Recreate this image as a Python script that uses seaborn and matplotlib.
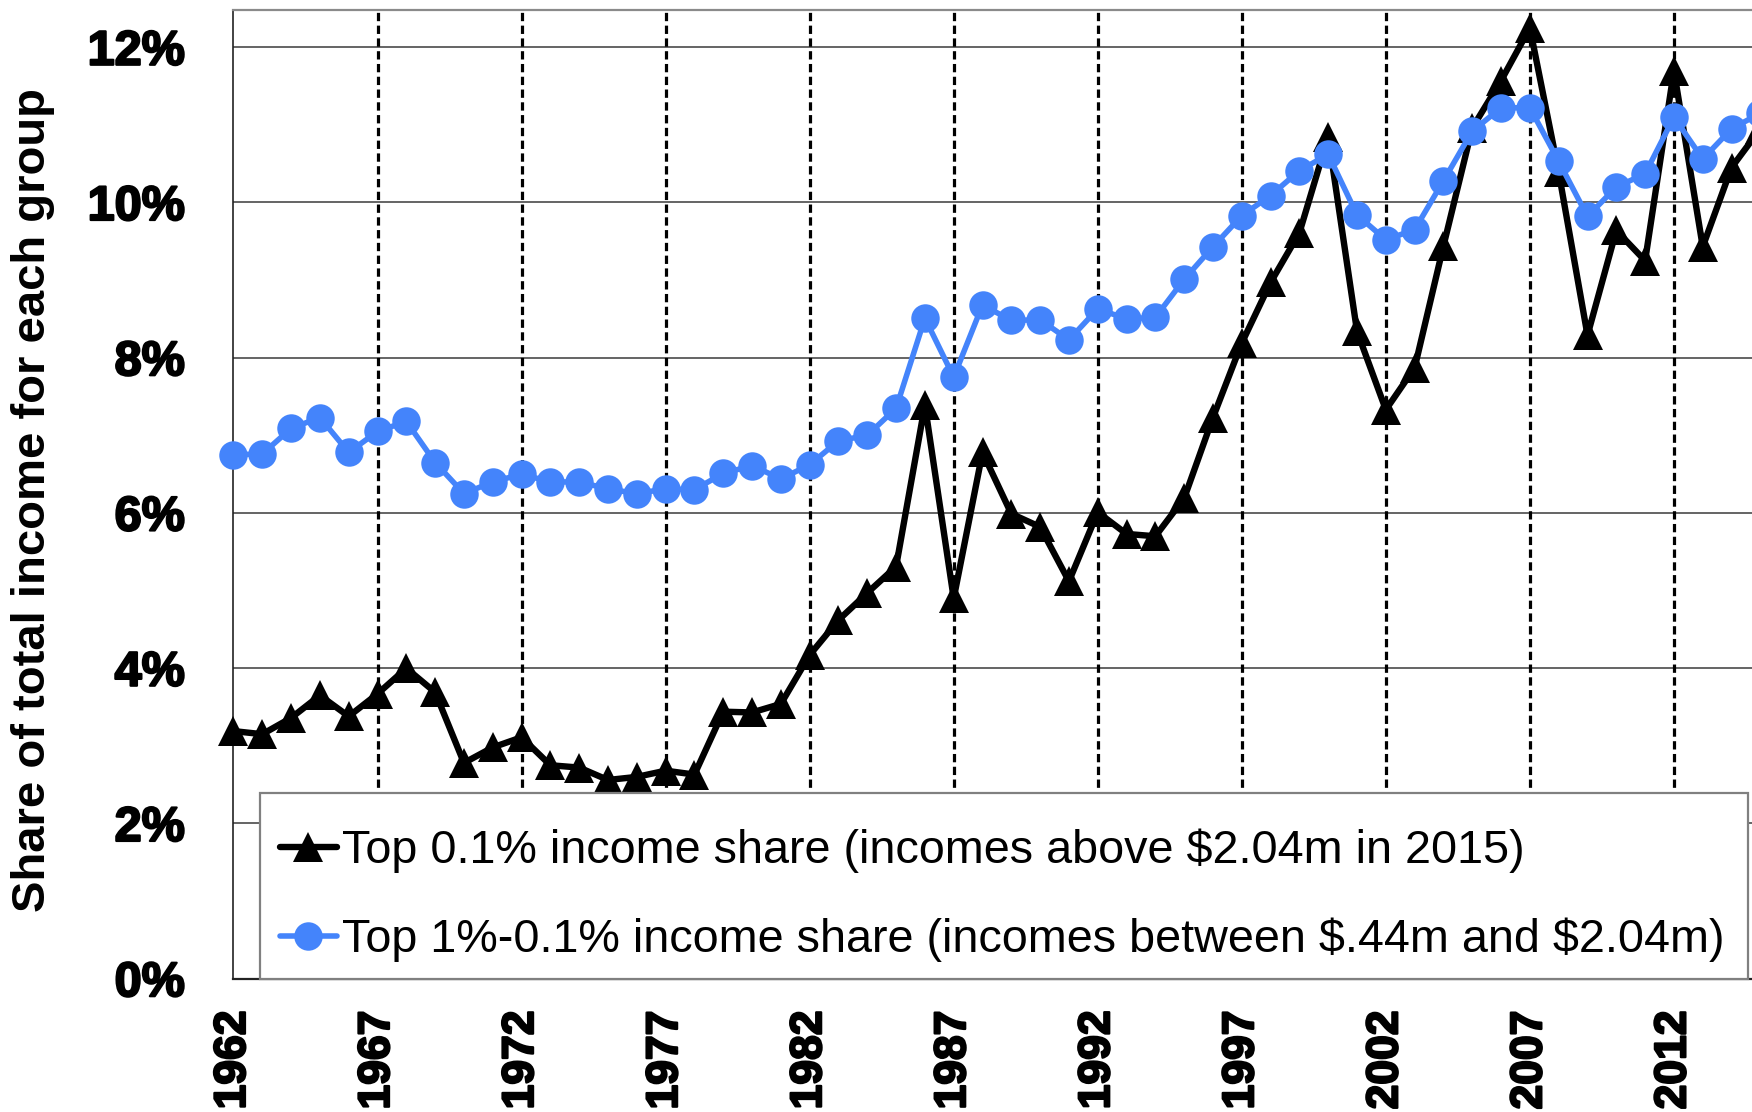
import matplotlib
matplotlib.use("Agg")
import matplotlib.pyplot as plt
import matplotlib.patheffects as pe
from matplotlib.patches import Rectangle
import seaborn as sns
from matplotlib.ticker import FuncFormatter

# Data (percent of total income)
years = list(range(1962, 2016))

top01_share = [3.19, 3.15, 3.36, 3.65, 3.38, 3.67, 4.00, 3.69, 2.78, 2.98,
               3.11, 2.75, 2.72, 2.56, 2.60, 2.68, 2.63, 3.44, 3.43, 3.54,
               4.17, 4.62, 4.97, 5.31, 7.39, 4.90, 6.78, 5.99, 5.82, 5.12,
               6.01, 5.73, 5.70, 6.19, 7.23, 8.19, 8.97, 9.61, 10.85, 8.34,
               7.33, 7.87, 9.44, 10.96, 11.57, 12.25, 10.39, 8.29, 9.64, 9.25,
               11.70, 9.43, 10.45, 10.95]

top1_01_share = [6.75, 6.76, 7.09, 7.23, 6.78, 7.05, 7.18, 6.65, 6.25, 6.40,
                 6.50, 6.40, 6.40, 6.31, 6.25, 6.31, 6.30, 6.51, 6.61, 6.44,
                 6.62, 6.93, 7.00, 7.35, 8.51, 7.75, 8.68, 8.48, 8.49, 8.23,
                 8.63, 8.50, 8.52, 9.01, 9.43, 9.83, 10.09, 10.41, 10.62, 9.84,
                 9.52, 9.65, 10.28, 10.92, 11.22, 11.22, 10.53, 9.82, 10.20, 10.37,
                 11.10, 10.56, 10.95, 11.15]

labels = [r"Top 0.1% income share (incomes above \$2.04m in 2015)",
          r"Top 1%-0.1% income share (incomes between \$.44m and \$2.04m)"]
year_ticks = list(range(1962, 2015, 5))
pct_ticks = [0, 2, 4, 6, 8, 10, 12]

sns.set_style("white")
plt.rcParams['font.family'] = ['Liberation Sans', 'DejaVu Sans']
plt.rcParams['text.color'] = 'black'
plt.rcParams['xtick.color'] = 'black'
plt.rcParams['ytick.color'] = 'black'
plt.rcParams['axes.labelcolor'] = 'black'

W, H = 1752, 1112
fig = plt.figure(figsize=(W / 100, H / 100), dpi=100)
ax = fig.add_axes([0.13327, 0.11988, 0.86673, 0.87113])

blue = '#4484FB'

sns.lineplot(x=years, y=top01_share, ax=ax, color='black', linewidth=4.6,
             marker='^', markersize=21, markeredgewidth=0, clip_on=False,
             label=labels[0], zorder=4)
sns.lineplot(x=years, y=top1_01_share, ax=ax, color=blue, linewidth=4.0,
             marker='o', markersize=20.5, markeredgewidth=0, clip_on=False,
             label=labels[1], zorder=5)

ax.set_xlim(1962, 2014.71)
ax.set_ylim(0, 12.48)
ax.set_xticks(year_ticks)
ax.set_yticks(pct_ticks)
ax.yaxis.set_major_formatter(FuncFormatter(lambda v, p: f"{v:.0f}%"))

# grid: solid horizontal, dashed vertical
for v in pct_ticks[1:]:
    ax.axhline(v, color='#3a3a3a', linewidth=1.1, zorder=1)
for yr in year_ticks[1:]:
    ax.axvline(yr, color='black', linewidth=2.3, linestyle=(0, (2.6, 1.4)), zorder=1)

ax.tick_params(axis='both', direction='out', length=11, width=0.9, color='#555555')
ax.tick_params(axis='y', pad=24, labelsize=35)
ax.tick_params(axis='x', pad=12, labelsize=32, rotation=90)
heavy = [pe.withStroke(linewidth=1.6, foreground='black')]
for lab in ax.get_xticklabels() + ax.get_yticklabels():
    lab.set_fontweight('bold')
    lab.set_path_effects(heavy)

ax.spines['right'].set_visible(False)
ax.spines['top'].set_color('#8a8a8a')
ax.spines['top'].set_linewidth(1.6)
ax.spines['left'].set_color('#222222')
ax.spines['left'].set_linewidth(1.2)
ax.spines['bottom'].set_color('#222222')
ax.spines['bottom'].set_linewidth(1.6)

ax.set_xlabel('')
ax.set_ylabel('Share of total income for each group', fontsize=34, fontweight='bold')
ax.yaxis.set_label_coords(-0.1174, 0.494)

# legend box drawn separately so the rows can sit where they do in the original
box = Rectangle((260 / W, (H - 979) / H), 1488 / W, 186 / H, transform=fig.transFigure,
                facecolor='white', edgecolor='#808080', linewidth=1.6,
                clip_on=False, zorder=9)
ax.add_patch(box)

leg = ax.legend(loc='lower left', bbox_to_anchor=(257 / W, (H - 985.5) / H),
                bbox_transform=fig.transFigure, fontsize=33.7, frameon=False,
                borderaxespad=0, borderpad=0.5, handlelength=1.2,
                handletextpad=0.12, labelspacing=0.95)
leg.set_zorder(10)

fig.savefig('out.png', dpi=100)
